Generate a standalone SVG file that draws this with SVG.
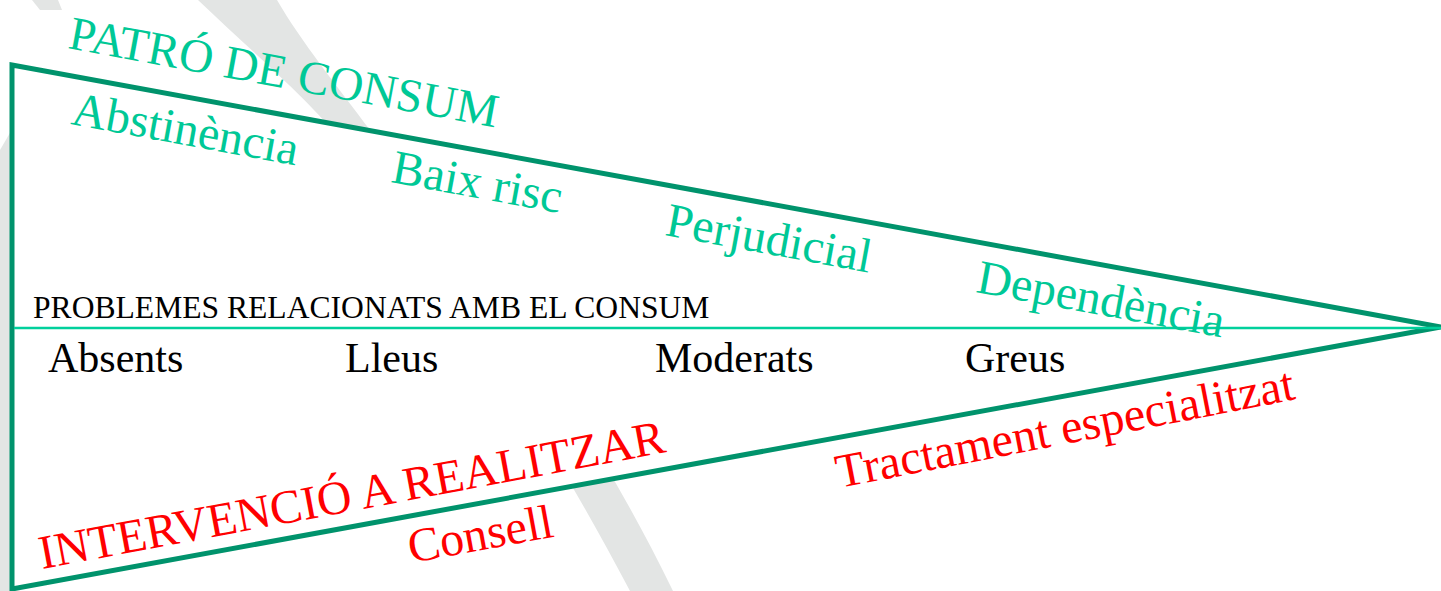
<svg xmlns="http://www.w3.org/2000/svg" width="1441" height="591" viewBox="0 0 1441 591">
<style>
.bg{fill:#e3e5e4}
.g{font-family:"Liberation Serif","Times New Roman",serif;font-size:48px;fill:#00c896}
.k{font-family:"Liberation Serif","Times New Roman",serif;font-size:42px;fill:#000}
.ks{font-family:"Liberation Serif","Times New Roman",serif;font-size:31.6px;fill:#000}
.r{font-family:"Liberation Serif","Times New Roman",serif;font-size:48px;fill:#ff0000}
</style>
<rect width="1441" height="591" fill="#fff"/>
<g id="background">
<path class="bg" d="M198,0 C250,50 310,100 340,140 C450,290 540,420 630,591 L673,591 C590,420 480,270 370,130 C340,90 300,40 277,0 Z"/>
<path class="bg" d="M0,150 L14,126 L14,591 L0,591 Z"/>
<path class="bg" d="M32,0 L58,0 L62,10 L40,10 Z"/>
</g>
<g id="triangle">
<polygon points="12,65 1441,327 12,589" fill="#fff" stroke="#00936c" stroke-width="5" stroke-linejoin="miter"/>
</g>
<g id="connectors">
<line x1="14" y1="328" x2="1441" y2="328" stroke="#00d09c" stroke-width="2.5"/>
</g>
<g id="patro">
<text class="g" transform="translate(67,48) rotate(10.5)" style="font-size:47.4px">PATRÓ DE CONSUM</text>
<text class="g" transform="translate(70,124) rotate(10.4)">Abstinència</text>
<text class="g" transform="translate(390,182) rotate(10.4)">Baix risc</text>
<text class="g" transform="translate(664,235) rotate(10.4)">Perjudicial</text>
<text class="g" transform="translate(975,292) rotate(10.4)">Dependència</text>
</g>
<g id="problemes">
<text class="ks" x="33" y="318">PROBLEMES RELACIONATS AMB EL CONSUM</text>
<text class="k" x="48" y="372">Absents</text>
<text class="k" x="345" y="372">Lleus</text>
<text class="k" x="655" y="372">Moderats</text>
<text class="k" x="965" y="372">Greus</text>
</g>
<g id="intervencio">
<text class="r" transform="translate(42,569) rotate(-10.6)" style="font-size:47.8px">INTERVENCIÓ A REALITZAR</text>
<text class="r" transform="translate(411,563) rotate(-10.4)">Consell</text>
<text class="r" transform="translate(839,488) rotate(-11)">Tractament especialitzat</text>
</g>
</svg>
